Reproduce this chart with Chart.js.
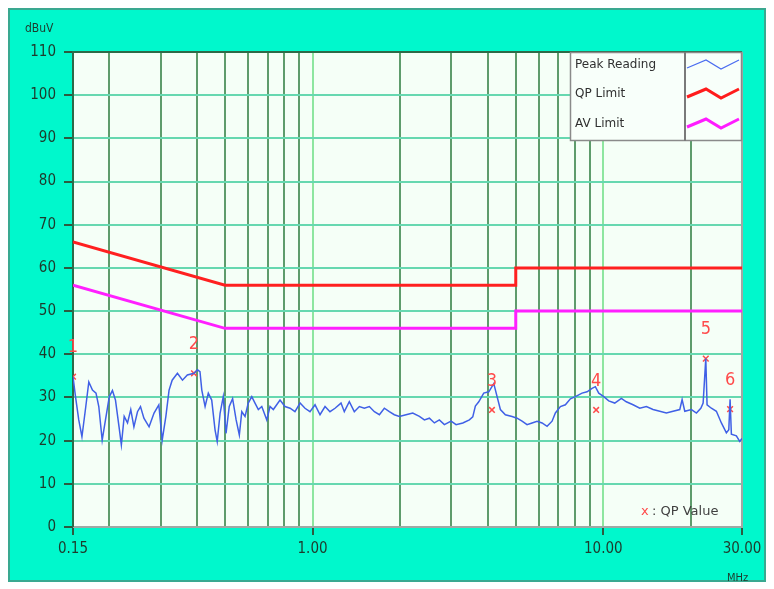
<!DOCTYPE html>
<html>
<head>
<meta charset="utf-8">
<script src="https://cdn.jsdelivr.net/npm/chart.js@4/dist/chart.umd.min.js"></script>
<style>
    html, body { margin: 0; padding: 0; background: #fff; }
    #wrap { width: 774px; height: 589px; position: relative; }
</style>
</head>
<body>
<div id="wrap"><canvas id="emiChart"></canvas></div>
<script>
// Peak reading trace (MHz / dBuV)
const peakFreq = [
    0.150, 0.153, 0.157, 0.161, 0.166, 0.170, 0.175, 0.180, 0.184, 0.189,
    0.194, 0.200, 0.205, 0.210, 0.216, 0.220, 0.225, 0.231, 0.237, 0.243,
    0.250, 0.256, 0.263, 0.274, 0.285, 0.296, 0.304, 0.313, 0.321, 0.329,
    0.343, 0.357, 0.371, 0.391, 0.402, 0.410, 0.416, 0.427, 0.438, 0.450,
    0.462, 0.470, 0.481, 0.493, 0.504, 0.517, 0.531, 0.546, 0.560, 0.571,
    0.586, 0.601, 0.618, 0.634, 0.651, 0.669, 0.696, 0.714, 0.733, 0.773,
    0.804, 0.837, 0.870, 0.906, 0.942, 0.980, 1.020, 1.061, 1.104, 1.148,
    1.195, 1.253, 1.286, 1.338, 1.392, 1.449, 1.507, 1.568, 1.632, 1.698,
    1.766, 1.837, 1.911, 1.989, 2.097, 2.212, 2.331, 2.425, 2.523, 2.625,
    2.730, 2.841, 2.996, 3.117, 3.287, 3.463, 3.557, 3.631, 3.730, 3.880,
    4.038, 4.201, 4.313, 4.427, 4.605, 4.855, 5.052, 5.256, 5.468, 5.689,
    5.919, 6.158, 6.407, 6.666, 6.843, 7.120, 7.407, 7.706, 8.017, 8.452,
    8.794, 9.149, 9.392, 9.648, 10.04, 10.44, 10.95, 11.54, 12.00, 12.66,
    13.35, 14.07, 14.83, 15.64, 16.48, 17.38, 18.33, 18.67, 19.07, 20.10,
    20.91, 21.65, 22.05, 22.52, 22.75, 23.54, 24.49, 25.48, 26.51, 27.02,
    27.30, 27.58, 28.69, 29.47, 30.00
];
const peakLevel = [
    34.8, 30.2, 24.8, 20.9, 27.9, 33.6, 31.7, 31.0, 27.9, 20.1,
    24.8, 30.2, 31.6, 29.4, 23.2, 19.0, 25.6, 24.1, 27.2, 23.2,
    26.7, 27.9, 25.2, 23.2, 26.4, 28.3, 20.1, 25.6, 31.7, 34.0,
    35.6, 34.0, 35.2, 35.6, 36.4, 36.0, 31.7, 27.9, 31.0, 29.4,
    22.5, 19.8, 26.4, 30.2, 21.7, 27.9, 29.7, 24.8, 21.3, 26.7,
    25.6, 28.7, 30.2, 28.7, 27.2, 27.9, 24.8, 27.9, 27.2, 29.4,
    27.9, 27.5, 26.7, 28.7, 27.5, 26.7, 28.3, 26.0, 27.9, 26.7,
    27.5, 28.7, 26.7, 29.0, 26.7, 27.9, 27.5, 27.9, 26.7, 26.0,
    27.5, 26.7, 26.0, 25.6, 26.0, 26.4, 25.6, 24.8, 25.2, 24.1,
    24.8, 23.7, 24.5, 23.7, 24.1, 24.8, 25.5, 28.0, 29.0, 31.0,
    31.3, 33.2, 30.2, 27.2, 26.0, 25.6, 25.2, 24.5, 23.7, 24.1,
    24.5, 24.1, 23.3, 24.5, 26.4, 27.9, 28.3, 29.7, 30.2, 31.0,
    31.3, 32.1, 32.5, 31.0, 30.2, 29.2, 28.7, 29.8, 29.0, 28.3,
    27.5, 27.9, 27.2, 26.8, 26.4, 26.8, 27.2, 29.5, 26.8, 27.2,
    26.4, 27.5, 28.7, 39.0, 28.3, 27.5, 26.8, 24.1, 21.8, 22.5,
    29.6, 21.5, 21.1, 19.8, 20.5
];

// Limit lines
const limitFreq = [0.15, 0.5, 5, 5, 30];
const qpLimit = [66, 56, 56, 60, 60];
const avLimit = [56, 46, 46, 50, 50];

// QP measured points
const qpFreq = [0.150, 0.391, 4.14, 9.45, 22.52, 27.30];
const qpValue = [34.8, 35.6, 27.1, 27.1, 39.0, 27.3];
const qpLabels = ['1', '2', '3', '4', '5', '6'];

// Axis ticks
const xGridLines = [0.15, 0.2, 0.3, 0.4, 0.5, 0.6, 0.7, 0.8, 0.9, 1,
    2, 3, 4, 5, 6, 7, 8, 9, 10, 20, 30];
const xTickLabels = { 0.15: '0.15', 1: '1.00', 10: '10.00', 30: '30.00' };

const PANEL = '#00f8cc';
const PLOT_BG = '#f5fff7';
const TEXT = '#1e3a2c';
const FONT = "'DejaVu Sans Condensed', 'Liberation Sans Narrow', 'DejaVu Sans', sans-serif";
const LEGEND_FONT = "'DejaVu Sans', sans-serif";

const toPoints = (xs, ys) => xs.map((x, i) => ({ x: x, y: ys[i] }));

// Teal panel and plot background
const backgroundPlugin = {
    id: 'panelBackground',
    beforeDraw(chart) {
        const { ctx, chartArea: a } = chart;
        ctx.save();
        ctx.fillStyle = '#ffffff';
        ctx.fillRect(0, 0, chart.width, chart.height);
        ctx.fillStyle = PANEL;
        ctx.fillRect(8, 8, 758, 574);
        ctx.strokeStyle = '#3aa890';
        ctx.lineWidth = 2;
        ctx.strokeRect(9, 9, 756, 572);
        ctx.fillStyle = PLOT_BG;
        ctx.fillRect(a.left, a.top, a.right - a.left, a.bottom - a.top);
        ctx.restore();
    }
};

// Plot frame, axis titles, legend box, marker numbers
const decorPlugin = {
    id: 'decor',
    beforeDatasetsDraw(chart) {
        const { ctx, chartArea: a } = chart;
        ctx.save();
        ctx.lineWidth = 2;
        ctx.strokeStyle = '#a0a8a4';
        ctx.beginPath();
        ctx.moveTo(a.right, a.top);
        ctx.lineTo(a.right, a.bottom);
        ctx.lineTo(a.left, a.bottom);
        ctx.stroke();
        ctx.strokeStyle = '#2d6a48';
        ctx.beginPath();
        ctx.moveTo(a.left, a.bottom);
        ctx.lineTo(a.left, a.top);
        ctx.lineTo(a.right, a.top);
        ctx.stroke();
        ctx.restore();
    },
    afterDraw(chart) {
        const { ctx } = chart;
        ctx.save();

        // axis units
        ctx.fillStyle = TEXT;
        ctx.font = '12px ' + FONT;
        ctx.textBaseline = 'middle';
        ctx.textAlign = 'left';
        ctx.fillText('dBuV', 25, 29);
        ctx.font = '11px ' + FONT;
        ctx.fillText('MHz', 727, 578);

        // QP marker numbers
        const meta = chart.getDatasetMeta(3);
        ctx.fillStyle = '#ff4a4a';
        ctx.font = '18px ' + FONT;
        ctx.textAlign = 'center';
        meta.data.forEach((pt, i) => {
            ctx.fillText(qpLabels[i], pt.x, pt.y - 29);
        });

        // "x : QP Value" note
        ctx.font = '13px ' + LEGEND_FONT;
        ctx.textAlign = 'left';
        ctx.fillStyle = '#ff4a4a';
        ctx.fillText('x', 641, 512);
        ctx.fillStyle = '#404040';
        ctx.fillText(': QP Value', 652, 512);

        // legend box
        const bx = 570, by = 52, bw = 172, bh = 89, split = 685;
        ctx.fillStyle = '#f8fffa';
        ctx.fillRect(bx, by, bw, bh);
        ctx.strokeStyle = '#8a8a8a';
        ctx.lineWidth = 1.5;
        ctx.strokeRect(bx + 0.5, by + 0.5, bw - 1, bh - 1);
        ctx.strokeStyle = '#7a7a7a';
        ctx.lineWidth = 2;
        ctx.beginPath();
        ctx.moveTo(split, by);
        ctx.lineTo(split, by + bh);
        ctx.stroke();

        const rows = [
            { text: 'Peak Reading', color: '#4a6cf0', width: 1.2, y: 65 },
            { text: 'QP Limit', color: '#ff1c1c', width: 3, y: 94 },
            { text: 'AV Limit', color: '#ff1cff', width: 3, y: 124 }
        ];
        rows.forEach(r => {
            ctx.fillStyle = '#303030';
            ctx.font = '12px ' + LEGEND_FONT;
            ctx.fillText(r.text, 575, r.y);
            ctx.strokeStyle = r.color;
            ctx.lineWidth = r.width;
            ctx.beginPath();
            ctx.moveTo(687, r.y + 3);
            ctx.lineTo(706, r.y - 5);
            ctx.lineTo(721, r.y + 4);
            ctx.lineTo(739, r.y - 5);
            ctx.stroke();
        });
        ctx.restore();
    }
};

new Chart(document.getElementById('emiChart'), {
    type: 'line',
    data: {
        datasets: [
            {
                label: 'Peak Reading',
                data: toPoints(peakFreq, peakLevel),
                borderColor: '#4060e6',
                borderWidth: 1.5,
                pointRadius: 0,
                tension: 0
            },
            {
                label: 'QP Limit',
                data: toPoints(limitFreq, qpLimit),
                borderColor: '#ff2020',
                borderWidth: 3,
                pointRadius: 0
            },
            {
                label: 'AV Limit',
                data: toPoints(limitFreq, avLimit),
                borderColor: '#ff20ff',
                borderWidth: 3,
                pointRadius: 0
            },
            {
                label: 'QP Value',
                data: toPoints(qpFreq, qpValue),
                showLine: false,
                pointStyle: 'crossRot',
                pointRadius: 4,
                borderColor: '#ff4a4a',
                borderWidth: 1.5
            }
        ]
    },
    options: {
        responsive: true,
        maintainAspectRatio: false,
        animation: false,
        devicePixelRatio: 1,
        layout: { padding: { left: 0, right: 32, top: 52, bottom: 0 } },
        plugins: {
            legend: { display: false },
            tooltip: { enabled: false }
        },
        scales: {
            x: {
                type: 'logarithmic',
                min: 0.15,
                max: 30,
                afterBuildTicks: scale => {
                    scale.ticks = xGridLines.map(v => ({ value: v }));
                },
                afterFit: scale => { scale.height = 62; },
                border: { display: false },
                grid: {
                    lineWidth: 2,
                    tickLength: 8,
                    color: ctx => {
                        const v = ctx.tick ? ctx.tick.value : 0;
                        if (v === 0.15 || v === 30) return 'rgba(0,0,0,0)';
                        if (v === 1 || v === 10) return '#8ee6a0';
                        return '#5e9c6c';
                    },
                    tickColor: ctx => {
                        const v = ctx.tick ? ctx.tick.value : 0;
                        return xTickLabels[v] ? '#2d5a40' : 'rgba(0,0,0,0)';
                    }
                },
                ticks: {
                    autoSkip: false,
                    maxRotation: 0,
                    padding: 5,
                    color: TEXT,
                    font: { family: FONT, size: 15 },
                    callback: value => xTickLabels[value] || ''
                }
            },
            y: {
                min: 0,
                max: 110,
                afterFit: scale => { scale.width = 73; },
                border: { display: false },
                grid: {
                    lineWidth: 2,
                    tickLength: 9,
                    tickColor: '#2d5a40',
                    color: ctx => {
                        const v = ctx.tick ? ctx.tick.value : 0;
                        return (v === 0 || v === 110) ? 'rgba(0,0,0,0)' : '#66d8b0';
                    }
                },
                ticks: {
                    stepSize: 10,
                    padding: 8,
                    color: TEXT,
                    font: { family: FONT, size: 15 }
                }
            }
        }
    },
    plugins: [backgroundPlugin, decorPlugin]
});
</script>
</body>
</html>
